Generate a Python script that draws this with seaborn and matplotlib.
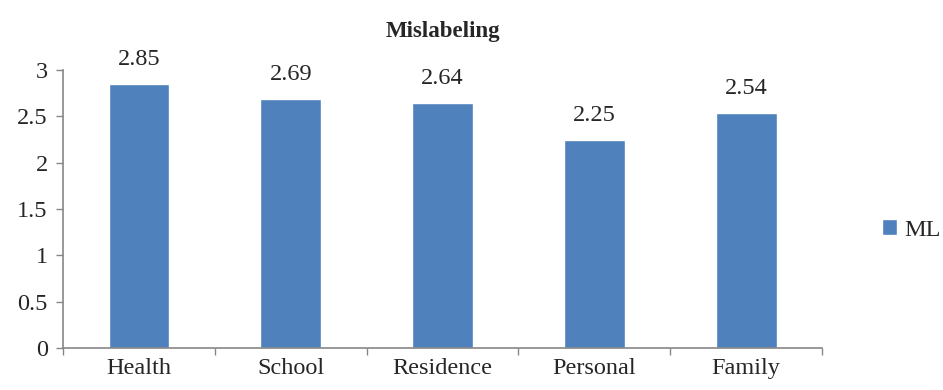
import pandas as pd
import numpy as np
import matplotlib.pyplot as plt
import seaborn as sns

# ---------------------------------------------------------
# DATA
# ---------------------------------------------------------
categories = ["Health", "School", "Residence", "Personal", "Family"]
ml_values = [2.85, 2.69, 2.64, 2.25, 2.54]
series_name = "ML"
y_ticks = [0, 0.5, 1, 1.5, 2, 2.5, 3]
y_tick_labels = ["0", "0.5", "1", "1.5", "2", "2.5", "3"]

bar_color = "#4F81BD"
axis_color = "#868686"

# ---------------------------------------------------------
# PLOT
# ---------------------------------------------------------
sns.set_style("white")
plt.rcParams["font.family"] = ["Liberation Serif", "DejaVu Serif"]

df = pd.DataFrame({"Category": categories, "Value": ml_values, "Series": series_name})

fig = plt.figure(figsize=(9.43, 3.9), dpi=100)
ax = fig.add_axes([0.0668, 0.1077, 0.805, 0.7128])

sns.barplot(data=df, x="Category", y="Value", hue="Series",
            palette=[bar_color], width=0.4, saturation=1, ax=ax)

for container in ax.containers:
    ax.bar_label(container, labels=[f"{v:.2f}" for v in ml_values],
                 padding=10, fontsize=17.5)

ax.set_ylim(0, 3)
ax.set_xlim(-0.5, len(categories) - 0.5)
ax.set_yticks(y_ticks)
ax.set_yticklabels(y_tick_labels, fontsize=17.5)
ax.tick_params(axis="y", length=5, width=1, color=axis_color, direction="out", pad=6, left=True)
ax.tick_params(axis="x", length=0, labelsize=17.5, pad=7)
ax.set_xticks(np.arange(-0.5, len(categories)), minor=True)
ax.tick_params(axis="x", which="minor", length=5, width=1, color=axis_color, bottom=True)

ax.set_xlabel("")
ax.set_ylabel("")
for side in ["top", "right"]:
    ax.spines[side].set_visible(False)
for side in ["left", "bottom"]:
    ax.spines[side].set_color(axis_color)
    ax.spines[side].set_linewidth(1.2)

ax.set_title("Mislabeling", fontsize=16.5, fontweight="bold", pad=24)

leg = ax.legend(loc="center left", bbox_to_anchor=(1.066, 0.424), frameon=False,
                fontsize=17.5, handlelength=0.6, handleheight=0.6, handletextpad=0.3,
                borderaxespad=0)

fig.savefig("out.png", dpi=100)
